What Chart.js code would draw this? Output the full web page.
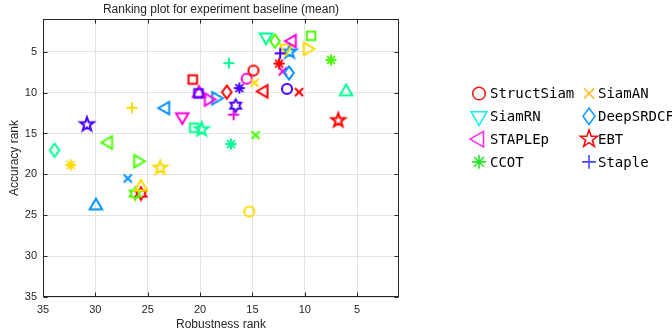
<!DOCTYPE html>
<html>
<head>
<meta charset="utf-8">
<script src="https://cdn.jsdelivr.net/npm/chart.js@4.4.0/dist/chart.umd.min.js"></script>
<style>
  html, body { margin: 0; padding: 0; background: #fff; }
</style>
</head>
<body>
<canvas id="chart" width="672" height="332"></canvas>
<script>
// data (only the first 8 trackers are named in the legend)
const trackers = ['StructSiam', 'SiamAN', 'SiamRN', 'DeepSRDCF', 'STAPLEp', 'EBT', 'CCOT', 'Staple'];
const robustnessRank = [
  14.9, 14.8, 13.7, 11.5, 11.2, 6.8, 7.5, 12.35,
  20.7, 20.15, 20.1, 19.2, 18.5, 17.45, 16.25, 16.6, 16.8, 17.25, 15.55, 13.9,
  11.7, 10.55, 6.05, 9.4, 9.75, 12.85, 11.8, 11.45, 12.45, 12.1,
  21.7, 20.55, 19.85, 17.05, 14.7, 15.3,
  23.3, 26.5, 30.8, 28.75, 33.9, 32.35, 25.95, 23.8, 26.9, 25.65, 26.2, 25.65, 29.95
];
const accuracyRank = [
  7.3, 8.8, 3.2, 7.6, 3.7, 13.4, 6.0, 5.2,
  8.4, 10.1, 10.1, 10.85, 10.7, 9.95, 9.45, 11.6, 12.7, 6.4, 8.3, 9.85,
  9.55, 9.95, 9.9, 3.05, 4.65, 3.7, 4.55, 5.0, 6.45, 7.4,
  12.95, 14.3, 14.5, 16.3, 15.2, 24.55,
  11.9, 11.85, 13.9, 16.1, 17.05, 18.85, 18.4, 19.2, 20.5, 21.55, 22.35, 22.35, 23.85
];
const xTicks = [35, 30, 25, 20, 15, 10, 5];
const yTicks = [5, 10, 15, 20, 25, 30, 35];

// marker styles (MATLAB-like symbols, hsv(7) colours)
const hsv7 = ['#FF0000', '#FFDB00', '#49FF00', '#00FF92', '#0092FF', '#4900FF', '#FF00DB'];
const [RED, GOLD, LIME, SPRING, BLUE, VIOLET, MAGENTA] = hsv7;
const markerShapes = [
  'o', 'x', 'v', 'd', '<', 'p', '*', '+',
  's', 's', '^', '>', '>', 'd', '*', 'h', '+', '+', 'o', '<',
  'o', 'x', '^', 's', '>', 'd', 'v', 'p', '*', 'x',
  'v', 's', 'p', '*', 'x', 'o',
  '<', '+', 'p', '<', 'd', '*', '>', 'p', 'x', '^', 'h', 'h', '^'
];
const markerColors = [
  RED, GOLD, SPRING, BLUE, MAGENTA, RED, LIME, VIOLET,
  RED, VIOLET, MAGENTA, MAGENTA, BLUE, RED, VIOLET, VIOLET, MAGENTA, SPRING, MAGENTA, RED,
  VIOLET, RED, SPRING, LIME, GOLD, LIME, GOLD, BLUE, RED, MAGENTA,
  MAGENTA, SPRING, SPRING, SPRING, LIME, GOLD,
  BLUE, GOLD, VIOLET, LIME, SPRING, GOLD, LIME, GOLD, BLUE, GOLD, LIME, RED, BLUE
];
const legendColors = ['#FF1A1A', '#FFC02A', '#18ECEC', '#1A9CFF', '#FF30E6', '#FF0808', '#22E622', '#4646FF'];

function drawMarker(ctx, shape, cx, cy, s, color, lw) {
  ctx.save();
  ctx.strokeStyle = color;
  ctx.lineWidth = lw;
  ctx.lineJoin = 'miter';
  ctx.beginPath();
  const poly = (pts) => {
    pts.forEach((p, i) => i ? ctx.lineTo(cx + p[0], cy + p[1]) : ctx.moveTo(cx + p[0], cy + p[1]));
    ctx.closePath();
  };
  const tri = (a0) => {
    const R = s * 0.6, pts = [];
    for (let k = 0; k < 3; k++) {
      const a = (a0 + k * 120) * Math.PI / 180;
      pts.push([R * Math.cos(a), R * Math.sin(a)]);
    }
    poly(pts);
  };
  const star = (n, R, r) => {
    const pts = [];
    for (let k = 0; k < 2 * n; k++) {
      const a = -Math.PI / 2 + k * Math.PI / n;
      const rr = k % 2 ? r : R;
      pts.push([rr * Math.cos(a), rr * Math.sin(a)]);
    }
    poly(pts);
  };
  switch (shape) {
    case 'o': ctx.arc(cx, cy, s * 0.42, 0, 2 * Math.PI); break;
    case 's': ctx.rect(cx - s * 0.36, cy - s * 0.36, s * 0.72, s * 0.72); break;
    case 'd': poly([[0, -s * 0.55], [s * 0.4, 0], [0, s * 0.55], [-s * 0.4, 0]]); break;
    case '^': tri(-90); break;
    case 'v': tri(90); break;
    case '>': tri(0); break;
    case '<': tri(180); break;
    case '+': {
      const a = s * 0.46;
      ctx.moveTo(cx - a, cy); ctx.lineTo(cx + a, cy);
      ctx.moveTo(cx, cy - a); ctx.lineTo(cx, cy + a);
      break;
    }
    case 'x': {
      const a = s * 0.34;
      ctx.moveTo(cx - a, cy - a); ctx.lineTo(cx + a, cy + a);
      ctx.moveTo(cx - a, cy + a); ctx.lineTo(cx + a, cy - a);
      break;
    }
    case '*': {
      const a = s * 0.46, b = a * Math.SQRT1_2;
      ctx.moveTo(cx - a, cy); ctx.lineTo(cx + a, cy);
      ctx.moveTo(cx, cy - a); ctx.lineTo(cx, cy + a);
      ctx.moveTo(cx - b, cy - b); ctx.lineTo(cx + b, cy + b);
      ctx.moveTo(cx - b, cy + b); ctx.lineTo(cx + b, cy - b);
      break;
    }
    case 'p': star(5, s * 0.6, s * 0.6 * 0.4); break;
    case 'h': star(6, s * 0.52, s * 0.52 * 0.577); break;
  }
  ctx.stroke();
  ctx.restore();
}

function markerImage(shape, color, s, lw) {
  const c = document.createElement('canvas');
  c.width = c.height = 24;
  drawMarker(c.getContext('2d'), shape, 12, 12, s, color, lw);
  return c;
}

const datasets = robustnessRank.map((x, i) => ({
  label: trackers[i] || '',
  data: [{ x: x, y: accuracyRank[i] }],
  pointStyle: markerImage(markerShapes[i], markerColors[i], 12, 2),
  pointRadius: 6,
  showLine: false,
}));

const textColor = '#262626';

const decorations = {
  id: 'decorations',
  afterDatasetsDraw(chart) {
    const { ctx, chartArea: a } = chart;
    const xs = chart.scales.x, ys = chart.scales.y;
    const L = Math.round(a.left) + 0.5, R = Math.round(a.right) - 0.5;
    const T = Math.round(a.top) + 0.5, B = Math.round(a.bottom) - 0.5;
    ctx.save();
    ctx.strokeStyle = textColor;
    ctx.lineWidth = 1;
    ctx.strokeRect(L, T, R - L, B - T);
    ctx.beginPath();
    xTicks.forEach(v => {
      const px = Math.round(xs.getPixelForValue(v)) + 0.5;
      ctx.moveTo(px, B); ctx.lineTo(px, B - 4);
      ctx.moveTo(px, T); ctx.lineTo(px, T + 4);
    });
    yTicks.forEach(v => {
      const py = Math.round(ys.getPixelForValue(v)) + 0.5;
      ctx.moveTo(L, py); ctx.lineTo(L + 4, py);
      ctx.moveTo(R, py); ctx.lineTo(R - 4, py);
    });
    ctx.stroke();
    ctx.restore();
  },
  afterDraw(chart) {
    const { ctx, chartArea: a } = chart;
    const cx = (a.left + a.right) / 2, cy = (a.top + a.bottom) / 2;
    ctx.save();
    ctx.fillStyle = textColor;
    ctx.textAlign = 'center';
    ctx.textBaseline = 'middle';
    ctx.font = '12px "Liberation Sans", Arial, sans-serif';
    ctx.fillText('Ranking plot for experiment baseline (mean)', cx, 10);
    ctx.fillText('Robustness rank', cx, 325);
    ctx.translate(15, cy);
    ctx.rotate(-Math.PI / 2);
    ctx.fillText('Accuracy rank', 0, 0);
    ctx.restore();

    // legend, two columns, row-major
    ctx.save();
    ctx.font = '14px "DejaVu Sans Mono", monospace';
    ctx.textBaseline = 'middle';
    ctx.fillStyle = '#000';
    trackers.forEach((name, i) => {
      const col = i % 2, row = Math.floor(i / 2);
      const mx = col ? 589 : 479;
      const my = 93.5 + row * 22.8;
      drawMarker(ctx, markerShapes[i], mx, my, 15, legendColors[i], 1.6);
      ctx.fillText(name, col ? 598 : 490, my + 1);
    });
    ctx.restore();
  }
};

new Chart(document.getElementById('chart'), {
  type: 'scatter',
  data: { datasets },
  options: {
    responsive: false,
    animation: false,
    devicePixelRatio: 1,
    events: [],
    layout: { padding: { top: 19, right: 273, left: 0, bottom: 0 } },
    plugins: {
      legend: { display: false },
      title: { display: false },
      tooltip: { enabled: false },
    },
    scales: {
      x: {
        type: 'linear',
        reverse: true,
        min: 1,
        max: 35,
        afterBuildTicks: s => { s.ticks = xTicks.map(v => ({ value: v })); },
        afterFit: s => { s.height = 35; },
        grid: { color: '#E3E3E3', drawTicks: false },
        border: { display: false },
        ticks: {
          padding: 6,
          autoSkip: false,
          maxRotation: 0,
          color: textColor,
          font: { family: '"Liberation Sans", Arial, sans-serif', size: 11 },
        },
      },
      y: {
        type: 'linear',
        reverse: true,
        min: 1,
        max: 35,
        afterBuildTicks: s => { s.ticks = yTicks.map(v => ({ value: v })); },
        afterFit: s => { s.width = 43; },
        grid: { color: '#E3E3E3', drawTicks: false },
        border: { display: false },
        ticks: {
          padding: 6,
          autoSkip: false,
          color: textColor,
          font: { family: '"Liberation Sans", Arial, sans-serif', size: 11 },
        },
      },
    },
  },
  plugins: [decorations],
});
</script>
</body>
</html>
